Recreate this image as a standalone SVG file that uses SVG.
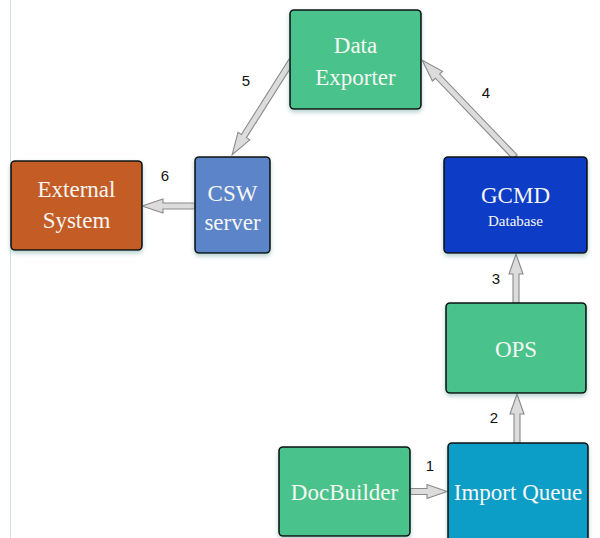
<svg xmlns="http://www.w3.org/2000/svg" width="600" height="538" viewBox="0 0 600 538">
<style>
.box{stroke:#111;stroke-width:1.6}
.t{font-family:"Liberation Serif",serif;font-size:23px;fill:#f6f6f2;text-anchor:middle}
.s{font-family:"Liberation Serif",serif;font-size:15px;fill:#f6f6f2;text-anchor:middle}
.n{font-family:"Liberation Sans",sans-serif;font-size:15px;fill:#111;text-anchor:middle}
.a{fill:#dcdcdc;stroke:#8a8a8a;stroke-width:1.1;stroke-linejoin:miter}
</style>
<defs>
<filter id="sh" x="-20%" y="-20%" width="140%" height="150%">
<feDropShadow dx="0" dy="2.5" stdDeviation="2.2" flood-color="#5a9a94" flood-opacity="0.45"/>
</filter>
</defs>
<rect x="0" y="0" width="600" height="538" fill="#ffffff"/>
<line x1="10.5" y1="0" x2="10.5" y2="538" stroke="#d4dede" stroke-width="1"/>
<g id="connectors">
<path class="a" transform="translate(410,491.5)" d="M0,-3 H17 V-7 L37,0 L17,7 V3 H0 Z"/>
<path class="a" transform="translate(517,443) rotate(-90)" d="M0,-3 H29 V-7 L49,0 L29,7 V3 H0 Z"/>
<path class="a" transform="translate(516,303) rotate(-90)" d="M0,-3 H29 V-7 L49,0 L29,7 V3 H0 Z"/>
<path class="a" transform="translate(515,157) rotate(-133.8)" d="M0,-3 H112 V-7 L134,0 L112,7 V3 H0 Z"/>
<path class="a" transform="translate(292,60) rotate(122.3)" d="M0,-3 H90 V-7 L112,0 L90,7 V3 H0 Z"/>
<path class="a" transform="translate(195,206) rotate(180)" d="M0,-3 H32 V-7 L53,0 L32,7 V3 H0 Z"/>
<text class="n" x="430" y="471">1</text>
<text class="n" x="494" y="423">2</text>
<text class="n" x="496" y="284">3</text>
<text class="n" x="486" y="98">4</text>
<text class="n" x="246" y="86">5</text>
<text class="n" x="165" y="181">6</text>
</g>
<g id="data-exporter">
<rect class="box" filter="url(#sh)" x="290" y="10" width="131" height="99" rx="4" fill="#48c38b"/>
<text class="t" x="355.5" y="53">Data</text>
<text class="t" x="355.5" y="85">Exporter</text>
</g>
<g id="csw-server">
<rect class="box" filter="url(#sh)" x="195" y="157" width="75" height="96" rx="4" fill="#5c84c8"/>
<text class="t" x="232.5" y="201">CSW</text>
<text class="t" x="232.5" y="230">server</text>
</g>
<g id="external-system">
<rect class="box" filter="url(#sh)" x="11" y="161" width="131" height="89" rx="4" fill="#c45c27"/>
<text class="t" x="76.5" y="197">External</text>
<text class="t" x="76.5" y="228">System</text>
</g>
<g id="gcmd-database">
<rect class="box" filter="url(#sh)" x="444" y="157" width="143" height="96" rx="4" fill="#0b3ec6"/>
<text class="t" x="515.5" y="203">GCMD</text>
<text class="s" x="515.5" y="226">Database</text>
</g>
<g id="ops">
<rect class="box" filter="url(#sh)" x="446" y="303" width="140" height="90" rx="4" fill="#48c38b"/>
<text class="t" x="516" y="357">OPS</text>
</g>
<g id="docbuilder">
<rect class="box" filter="url(#sh)" x="279" y="447" width="131" height="89" rx="4" fill="#48c38b"/>
<text class="t" x="344.5" y="500">DocBuilder</text>
</g>
<g id="import-queue">
<rect class="box" filter="url(#sh)" x="448" y="443" width="140" height="100" rx="4" fill="#079ec8"/>
<text class="t" x="518" y="500">Import Queue</text>
</g>
</svg>
